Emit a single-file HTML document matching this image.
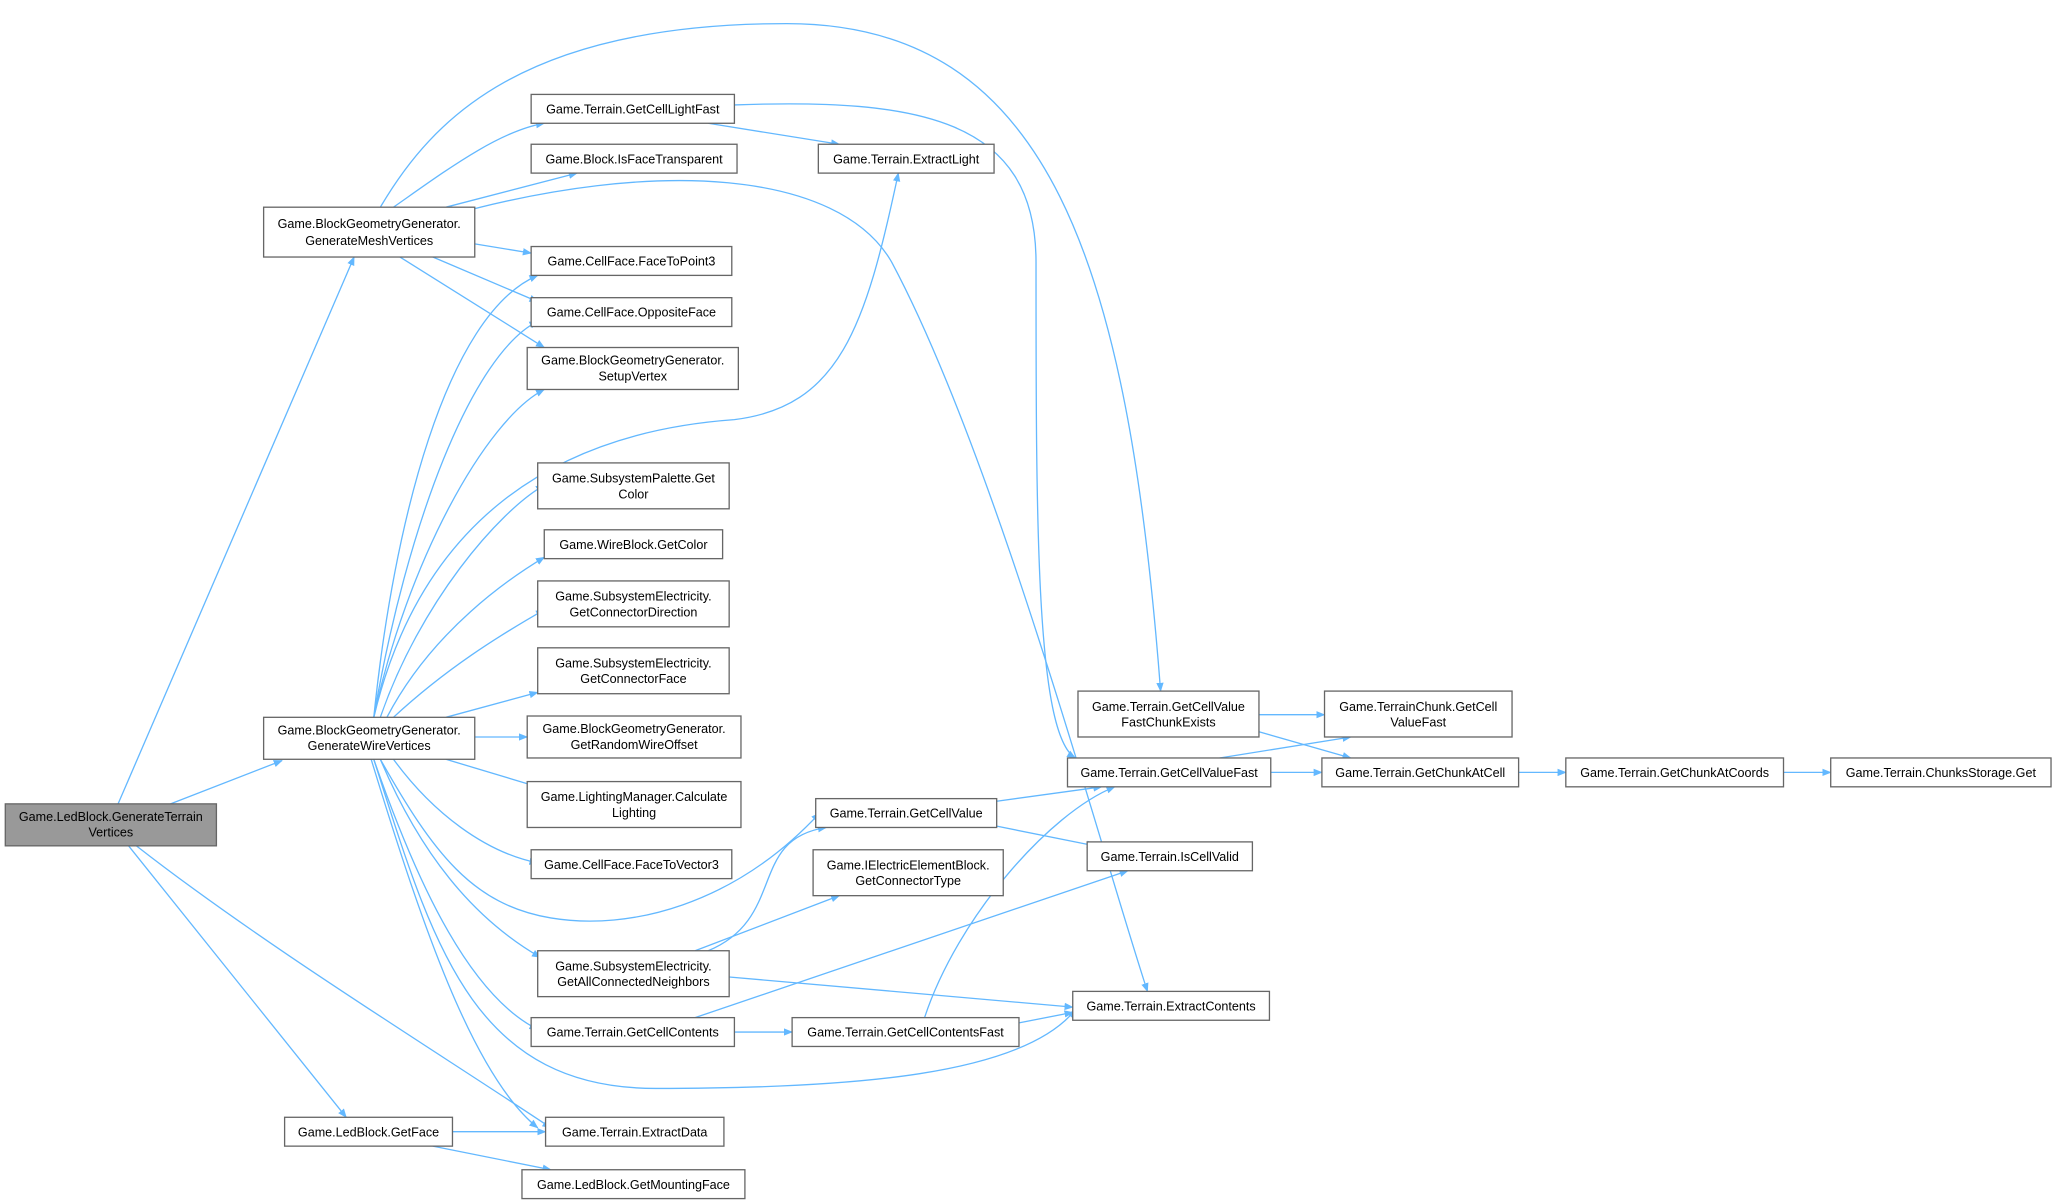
<!DOCTYPE html>
<html><head><meta charset="utf-8"><style>
html,body{margin:0;padding:0;background:#fff;}
svg{display:block;}
text{font-family:"Liberation Sans",Arial,sans-serif;font-size:9.6px;fill:#000;text-anchor:middle;}
.n{fill:#fff;stroke:#666;stroke-width:1;}
.e{fill:none;stroke:#63b8ff;stroke-width:1;marker-end:url(#a);}
</style></head><body>
<svg width="2055" height="1202" viewBox="0 0 1567 916.6" xmlns="http://www.w3.org/2000/svg">
<defs><marker id="a" viewBox="0 0 10 10" refX="9" refY="5" markerWidth="7" markerHeight="7" orient="auto" markerUnits="userSpaceOnUse"><path d="M0,1 L10,5 L0,9 z" fill="#63b8ff"/></marker></defs>
<!-- edges -->
<path class="e" d="M90,613 L270,196"/>
<path class="e" d="M130,613 L215,580"/>
<path class="e" d="M98,645 L264,852"/>
<path class="e" d="M104,645 C200,720 330,800 420,860"/>
<path class="e" d="M300,158 C340,130 380,100 415,94"/>
<path class="e" d="M340,158 L440,132"/>
<path class="e" d="M362,186 L405,193"/>
<path class="e" d="M330,196 L410,230"/>
<path class="e" d="M305,196 L415,265"/>
<path class="e" d="M290,158 C330,90 400,18 600,18 C800,18 860,200 885,527"/>
<path class="e" d="M340,165 C500,120 640,130 680,200 C760,350 840,650 875,756"/>
<path class="e" d="M540,94 L640,110"/>
<path class="e" d="M560,80 C700,75 790,90 790,200 C790,400 790,560 820,578"/>
<path class="e" d="M285,547 C300,400 340,240 410,210"/>
<path class="e" d="M285,547 C310,400 360,270 410,245"/>
<path class="e" d="M285,547 C310,430 370,320 415,297"/>
<path class="e" d="M285,547 C320,400 420,330 560,320 C640,310 660,250 685,132"/>
<path class="e" d="M290,547 C320,460 380,390 415,370"/>
<path class="e" d="M295,547 C330,480 390,440 415,425"/>
<path class="e" d="M300,547 C340,510 380,485 415,465"/>
<path class="e" d="M340,547 L410,528"/>
<path class="e" d="M362,562 L402,562"/>
<path class="e" d="M340,579 L410,600"/>
<path class="e" d="M300,579 C330,620 370,650 410,658"/>
<path class="e" d="M290,579 C330,650 360,690 420,700 C480,710 560,690 625,620"/>
<path class="e" d="M290,579 C320,650 360,700 412,730"/>
<path class="e" d="M285,579 C320,680 360,760 410,785"/>
<path class="e" d="M283,579 C320,700 360,820 410,860"/>
<path class="e" d="M285,579 C330,720 360,830 500,830 C650,830 780,820 820,770"/>
<path class="e" d="M345,863 L416,863"/>
<path class="e" d="M330,874 L420,892"/>
<path class="e" d="M530,725 L640,683"/>
<path class="e" d="M540,725 C600,700 570,640 630,631"/>
<path class="e" d="M556,745 L818,768"/>
<path class="e" d="M560,787 L604,787"/>
<path class="e" d="M530,776 L860,664"/>
<path class="e" d="M777,780 L818,772"/>
<path class="e" d="M705,776 C730,700 800,620 850,600"/>
<path class="e" d="M760,611 L840,600"/>
<path class="e" d="M760,630 L835,645"/>
<path class="e" d="M960,545 L1010,545"/>
<path class="e" d="M960,558 L1030,578"/>
<path class="e" d="M930,578 L1030,562"/>
<path class="e" d="M969,589 L1008,589"/>
<path class="e" d="M1158,589 L1194,589"/>
<path class="e" d="M1360,589 L1396,589"/>
<!-- nodes -->
<rect x="4" y="613" width="161" height="32" fill="#999" stroke="#666"/>
<text x="84.5" y="626">Game.LedBlock.GenerateTerrain</text><text x="84.5" y="638">Vertices</text>
<rect class="n" x="201" y="158" width="161" height="38"/>
<text x="281.5" y="174">Game.BlockGeometryGenerator.</text><text x="281.5" y="187">GenerateMeshVertices</text>
<rect class="n" x="201" y="547" width="161" height="32"/>
<text x="281.5" y="560">Game.BlockGeometryGenerator.</text><text x="281.5" y="572">GenerateWireVertices</text>
<rect class="n" x="217" y="852" width="128" height="22"/><text x="281" y="866.5">Game.LedBlock.GetFace</text>
<rect class="n" x="405" y="72" width="155" height="22"/><text x="482.5" y="86.5">Game.Terrain.GetCellLightFast</text>
<rect class="n" x="405" y="110" width="157" height="22"/><text x="483.5" y="124.5">Game.Block.IsFaceTransparent</text>
<rect class="n" x="405" y="188" width="153" height="22"/><text x="481.5" y="202.5">Game.CellFace.FaceToPoint3</text>
<rect class="n" x="405" y="227" width="153" height="22"/><text x="481.5" y="241.5">Game.CellFace.OppositeFace</text>
<rect class="n" x="402" y="265" width="161" height="32"/>
<text x="482.5" y="278">Game.BlockGeometryGenerator.</text><text x="482.5" y="290">SetupVertex</text>
<rect class="n" x="410" y="353" width="146" height="35"/>
<text x="483" y="368">Game.SubsystemPalette.Get</text><text x="483" y="380">Color</text>
<rect class="n" x="415" y="404" width="136" height="22"/><text x="483" y="418.5">Game.WireBlock.GetColor</text>
<rect class="n" x="410" y="443" width="146" height="35"/>
<text x="483" y="458">Game.SubsystemElectricity.</text><text x="483" y="470">GetConnectorDirection</text>
<rect class="n" x="410" y="494" width="146" height="35"/>
<text x="483" y="509">Game.SubsystemElectricity.</text><text x="483" y="521">GetConnectorFace</text>
<rect class="n" x="402" y="546" width="163" height="32"/>
<text x="483.5" y="559">Game.BlockGeometryGenerator.</text><text x="483.5" y="571">GetRandomWireOffset</text>
<rect class="n" x="402" y="596" width="163" height="35"/>
<text x="483.5" y="611">Game.LightingManager.Calculate</text><text x="483.5" y="623">Lighting</text>
<rect class="n" x="405" y="648" width="153" height="22"/><text x="481.5" y="662.5">Game.CellFace.FaceToVector3</text>
<rect class="n" x="410" y="725" width="146" height="35"/>
<text x="483" y="740">Game.SubsystemElectricity.</text><text x="483" y="752">GetAllConnectedNeighbors</text>
<rect class="n" x="405" y="776" width="155" height="22"/><text x="482.5" y="790.5">Game.Terrain.GetCellContents</text>
<rect class="n" x="416" y="852" width="136" height="22"/><text x="484" y="866.5">Game.Terrain.ExtractData</text>
<rect class="n" x="398" y="892" width="170" height="22"/><text x="483" y="906.5">Game.LedBlock.GetMountingFace</text>
<rect class="n" x="624" y="110" width="134" height="22"/><text x="691" y="124.5">Game.Terrain.ExtractLight</text>
<rect class="n" x="622" y="609" width="138" height="22"/><text x="691" y="623.5">Game.Terrain.GetCellValue</text>
<rect class="n" x="620" y="648" width="145" height="35"/>
<text x="692.5" y="663">Game.IElectricElementBlock.</text><text x="692.5" y="675">GetConnectorType</text>
<rect class="n" x="604" y="776" width="173" height="22"/><text x="690.5" y="790.5">Game.Terrain.GetCellContentsFast</text>
<rect class="n" x="822" y="527" width="138" height="35"/>
<text x="891" y="542">Game.Terrain.GetCellValue</text><text x="891" y="554">FastChunkExists</text>
<rect class="n" x="814" y="578" width="155" height="22"/><text x="891.5" y="592.5">Game.Terrain.GetCellValueFast</text>
<rect class="n" x="829" y="642" width="126" height="22"/><text x="892" y="656.5">Game.Terrain.IsCellValid</text>
<rect class="n" x="818" y="756" width="150" height="22"/><text x="893" y="770.5">Game.Terrain.ExtractContents</text>
<rect class="n" x="1010" y="527" width="143" height="35"/>
<text x="1081.5" y="542">Game.TerrainChunk.GetCell</text><text x="1081.5" y="554">ValueFast</text>
<rect class="n" x="1008" y="578" width="150" height="22"/><text x="1083" y="592.5">Game.Terrain.GetChunkAtCell</text>
<rect class="n" x="1194" y="578" width="166" height="22"/><text x="1277" y="592.5">Game.Terrain.GetChunkAtCoords</text>
<rect class="n" x="1396" y="578" width="168" height="22"/><text x="1480" y="592.5">Game.Terrain.ChunksStorage.Get</text>
</svg>
</body></html>
